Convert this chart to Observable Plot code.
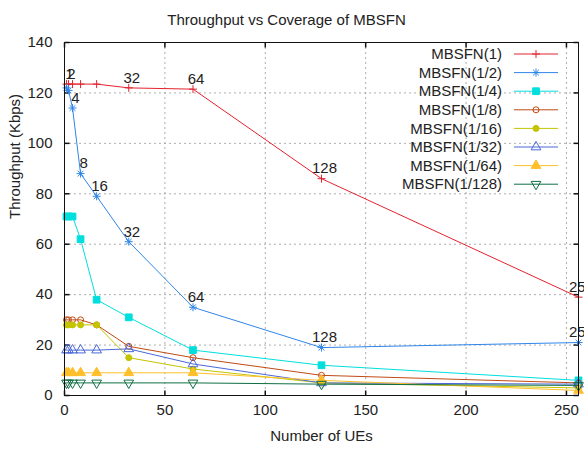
<!DOCTYPE html>
<html><head><meta charset="utf-8">
<script src="https://cdn.jsdelivr.net/npm/d3@7"></script>
<script src="https://cdn.jsdelivr.net/npm/@observablehq/plot@0.6"></script>
<style>
body{margin:0;background:#fff}
#chart svg{font-family:"Liberation Sans",Arial,sans-serif}
</style>
</head><body><div id="chart"></div>
<script>
// ---- data ----
const ues = [1, 2, 4, 8, 16, 32, 64, 128, 256];
const seriesNames = ["MBSFN(1)", "MBSFN(1/2)", "MBSFN(1/4)", "MBSFN(1/8)", "MBSFN(1/16)", "MBSFN(1/32)", "MBSFN(1/64)", "MBSFN(1/128)"];
const mbsfn1    = [123.5, 123.5, 123.5, 123.5, 123.5, 122, 121.5, 86, 39];
const mbsfn2    = [122, 121, 114, 88, 79, 61, 35, 19, 21];
const mbsfn4    = [71, 71, 71, 62, 38, 31, 18, 12, 6];
const mbsfn8    = [30, 30, 30, 30, 28, 19.5, 15, 8, 5];
const mbsfn16   = [28, 28, 28, 28, 28, 15, 10.5, 5, 3];
const mbsfn32   = [18, 18, 18, 18, 18, 18.5, 12.5, 5, 4.5];
const mbsfn64   = [9, 9, 9, 9, 9, 9, 9, 6, 2];
const mbsfn128  = [5, 5, 5, 5, 5, 5, 5, 4.5, 4];
const labelsRed  = [1, 2, 32, 64, 128, 256];
const labelsBlue = [4, 8, 16, 32, 64, 128, 256];
const xTicks = [0, 50, 100, 150, 200, 250];
const yTicks = [0, 20, 40, 60, 80, 100, 120, 140];
const titleText = "Throughput vs Coverage of MBSFN";
const xLabel = "Number of UEs";
const yLabel = "Throughput (Kbps)";

// ---- styles ----
const colors = ["#e4222e", "#2f86ea", "#00dede", "#c04a14", "#c4c400", "#4a68d8", "#ffbf2a", "#0f6e44"];
const asterisk = {draw(c, size){ const r = Math.sqrt(size/Math.PI), d = r*0.72;
  c.moveTo(-r,0); c.lineTo(r,0); c.moveTo(0,-r); c.lineTo(0,r);
  c.moveTo(-d,-d); c.lineTo(d,d); c.moveTo(-d,d); c.lineTo(d,-d);}};
const downTri = {draw(c, size){ const y = Math.sqrt(size/(Math.sqrt(3)*3)), x = Math.sqrt(3)*y;
  c.moveTo(0, 2*y); c.lineTo(-x, -y); c.lineTo(x, -y); c.closePath();}};
const plusSym = {draw(c, size){ const r = Math.sqrt(size/Math.PI);
  c.moveTo(-r,0); c.lineTo(r,0); c.moveTo(0,-r); c.lineTo(0,r);}};
const symbols = [plusSym, asterisk, "square", "circle", "circle", "triangle", "triangle", downTri];
const filled  = [false, false, true, false, true, false, true, false];
const radii   = [4, 4, 3.8, 3, 3, 3.6, 3.6, 3.6];
const tickUp = {draw(c){ c.moveTo(0,0); c.lineTo(0,-5); }};
const tickDown = {draw(c){ c.moveTo(0,0); c.lineTo(0,5); }};
const tickRight = {draw(c){ c.moveTo(0,0); c.lineTo(5,0); }};
const tickLeft = {draw(c){ c.moveTo(0,0); c.lineTo(-5,0); }};

const allValues = [mbsfn1, mbsfn2, mbsfn4, mbsfn8, mbsfn16, mbsfn32, mbsfn64, mbsfn128];
const series = allValues.map((vals, i) => ues.map((u, j) => ({x: u, y: vals[j], s: i})));
const redLabels = series[0].filter(d => labelsRed.includes(d.x));
const blueLabels = series[1].filter(d => labelsBlue.includes(d.x));

const marks = [
  Plot.gridX(xTicks, {stroke: "#9a9a9a", strokeOpacity: 0.8, strokeDasharray: "2,3"}),
  Plot.gridY(yTicks, {stroke: "#9a9a9a", strokeOpacity: 0.8, strokeDasharray: "2,3"}),
  Plot.axisX(xTicks, {tickSize: 0, tickPadding: 9, label: null, fill: "#222"}),
  Plot.axisY(yTicks, {tickSize: 0, tickPadding: 12, label: null, fill: "#222"}),
  Plot.dot(xTicks, {x: d => d, frameAnchor: "bottom", symbol: tickUp, stroke: "#111", fill: "none"}),
  Plot.dot(xTicks, {x: d => d, frameAnchor: "top", symbol: tickDown, stroke: "#111", fill: "none"}),
  Plot.dot(yTicks, {y: d => d, frameAnchor: "left", symbol: tickRight, stroke: "#111", fill: "none"}),
  Plot.dot(yTicks, {y: d => d, frameAnchor: "right", symbol: tickLeft, stroke: "#111", fill: "none"}),
  Plot.text(redLabels, {x: "x", y: "y", text: d => String(d.x), dx: 3, dy: -10, fill: "#222"}),
  Plot.text(blueLabels, {x: "x", y: "y", text: d => String(d.x), dx: 3, dy: -10, fill: "#222"})
];
series.forEach((data, i) => {
  marks.push(Plot.line(data, {x: "x", y: "y", stroke: colors[i], strokeWidth: 1}));
  marks.push(Plot.dot(data, {x: "x", y: "y", symbol: symbols[i], r: radii[i],
    stroke: colors[i], fill: filled[i] ? colors[i] : "none", strokeWidth: 1}));
});
marks.push(Plot.frame({stroke: "#111"}));
marks.push(Plot.text([titleText], {frameAnchor: "top", dx: -35, dy: -28, fill: "#222"}));
marks.push(Plot.text([xLabel], {frameAnchor: "bottom", dy: 45, fill: "#222"}));
marks.push(Plot.text([yLabel], {frameAnchor: "left", dx: -49, rotate: -90, fill: "#222"}));

const chart = Plot.plot({
  width: 584, height: 453,
  marginLeft: 64, marginRight: 6, marginTop: 42, marginBottom: 58,
  style: {fontSize: "15px", fontFamily: "'Liberation Sans', Arial, sans-serif", background: "#fff"},
  x: {domain: [0, 256]},
  y: {domain: [0, 140]},
  marks
});
document.getElementById("chart").appendChild(chart);

// legend (gnuplot style, inside top-right)
const svg = d3.select(chart);
const lg = svg.append("g").attr("font-size", 15).attr("fill", "#222");
seriesNames.forEach((name, i) => {
  const y = 54 + 18.6 * i;
  lg.append("text").attr("x", 502).attr("y", y).attr("dy", "0.35em").attr("text-anchor", "end").text(name);
  lg.append("line").attr("x1", 514).attr("x2", 558).attr("y1", y).attr("y2", y).attr("stroke", colors[i]);
  const sym = typeof symbols[i] === "string" ? {square: d3.symbolSquare, circle: d3.symbolCircle, triangle: d3.symbolTriangle}[symbols[i]] : symbols[i];
  lg.append("path").attr("d", d3.symbol(sym, Math.PI * radii[i] * radii[i])())
    .attr("transform", `translate(536,${y})`)
    .attr("stroke", colors[i]).attr("fill", filled[i] ? colors[i] : "none");
});
</script>
</body></html>
